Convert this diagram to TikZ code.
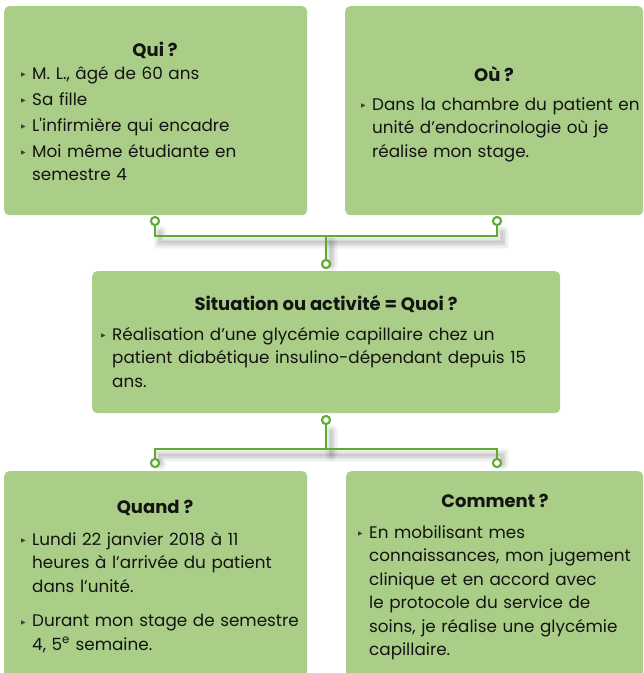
\documentclass[tikz,border=0pt]{standalone}
\usepackage{fontspec}
\setmainfont{Poppins}
\newfontfamily\bulfont{DejaVu Sans}
\definecolor{boxfill}{RGB}{170,205,135}
\definecolor{linegreen}{RGB}{94,172,50}
\definecolor{txt}{RGB}{20,20,20}
\definecolor{bulcol}{RGB}{60,60,60}
\newcommand\bul{\makebox[11pt][l]{\textcolor{bulcol}{\bulfont\fontsize{6}{6}\selectfont\raisebox{2.5pt}{▶}}}}
\newcommand\cont{\hspace*{11pt}}
\tikzset{
  box/.style={fill=boxfill, rounded corners=5pt, anchor=north west, inner sep=0pt, draw=none},
  ttl/.style={font=\bfseries\fontsize{18}{20}\selectfont, text=txt, anchor=base, inner sep=0pt},
  body/.style={font=\fontsize{16.8}{23.5}\selectfont, text=txt, anchor=north west, inner sep=0pt, text width=460pt, align=left},
  dot/.style={circle, draw=linegreen, line width=2pt, fill=white, minimum size=8pt, inner sep=0pt},
  conn/.style={draw=linegreen, line width=2pt},
  shad/.style={draw=black, line cap=round}
}
\begin{document}
\begin{tikzpicture}[x=1pt,y=-1pt]
\useasboundingbox (0,0) rectangle (644,673);
\clip (0,0) rectangle (644,673);
% boxes
\node[box, minimum width=303pt, minimum height=209pt] (qui) at (4,6) {};
\node[box, minimum width=298pt, minimum height=209pt] (ou) at (345,6) {};
\node[box, minimum width=468pt, minimum height=142pt] (quoi) at (92,271) {};
\node[box, minimum width=303pt, minimum height=230pt] (quand) at (4,471) {};
\node[box, minimum width=297pt, minimum height=230pt] (comment) at (346,471) {};
% junctions and dots
\coordinate (j1) at (326,236);
\coordinate (j2) at (326,449);
\node[dot] (d1) at (155,221) {};
\node[dot] (d2) at (497,221) {};
\node[dot] (d3) at (326,264) {};
\node[dot] (d4) at (326,420) {};
\node[dot] (d5) at (155,463) {};
\node[dot] (d6) at (497,463) {};
% shadows
\foreach \w/\o in {14/0.025,11/0.035,8/0.045,5/0.06,2/0.06}{
\begin{scope}[transform canvas={xshift=5pt,yshift=-6pt}]
\draw[shad, line width=\w pt, draw opacity=\o] (d1.south) |- (j1) -| (d2.south);
\draw[shad, line width=\w pt, draw opacity=\o] (j1) -- (d3.north);
\draw[shad, line width=\w pt, draw opacity=\o] (d4.south) -- (j2);
\draw[shad, line width=\w pt, draw opacity=\o] (d5.north) |- (j2) -| (d6.north);
\end{scope}}
% connectors
\draw[conn] (d1.south) |- (j1) -| (d2.south);
\draw[conn] (j1) -- (d3.north);
\draw[conn] (d4.south) -- (j2);
\draw[conn] (d5.north) |- (j2) -| (d6.north);
\node[dot] at (d1) {};
\node[dot] at (d2) {};
\node[dot] at (d3) {};
\node[dot] at (d4) {};
\node[dot] at (d5) {};
\node[dot] at (d6) {};
% titles
\node[ttl] (quiT) at (155,56) {Qui ?};
\node[ttl] (ouT) at (494,81) {Où ?};
\node[ttl] (quoiT) at (326,310) {Situation ou activité = Quoi ?};
\node[ttl] (quandT) at (155,513) {Quand ?};
\node[ttl] (commentT) at (495,507) {Comment ?};
% bodies
\node[body] (quiB) at (21,62.5) {\strut\bul M. L., âgé de 60 ans\\[2.5pt]
\bul Sa fille\\[2.5pt]
\bul L\textquotesingle infirmière qui encadre\\[2.5pt]
\bul Moi même étudiante en\\
\cont semestre 4};
\node[body] (ouB) at (361,93.5) {\strut\bul Dans la chambre du patient en\\
\cont unité d’endocrinologie où je\\
\cont réalise mon stage.};
\node[body] (quoiB) at (101,323.5) {\strut\bul Réalisation d’une glycémie capillaire chez un\\
\cont patient diabétique insulino-dépendant depuis 15\\
\cont ans.};
\node[body] (quandB) at (21,528.5) {\strut\bul Lundi 22 janvier 2018 à 11\\
\cont heures à l’arrivée du patient\\
\cont dans l’unité.\\[11pt]
\bul Durant mon stage de semestre\\
\cont 4, 5\textsuperscript{e} semaine.};
\node[body] (commentB) at (358,521.5) {\strut\bul En mobilisant mes\\
\cont connaissances, mon jugement\\
\cont clinique et en accord avec\\
\cont le protocole du service de\\
\cont soins, je réalise une glycémie\\
\cont capillaire.};
\end{tikzpicture}
\end{document}
